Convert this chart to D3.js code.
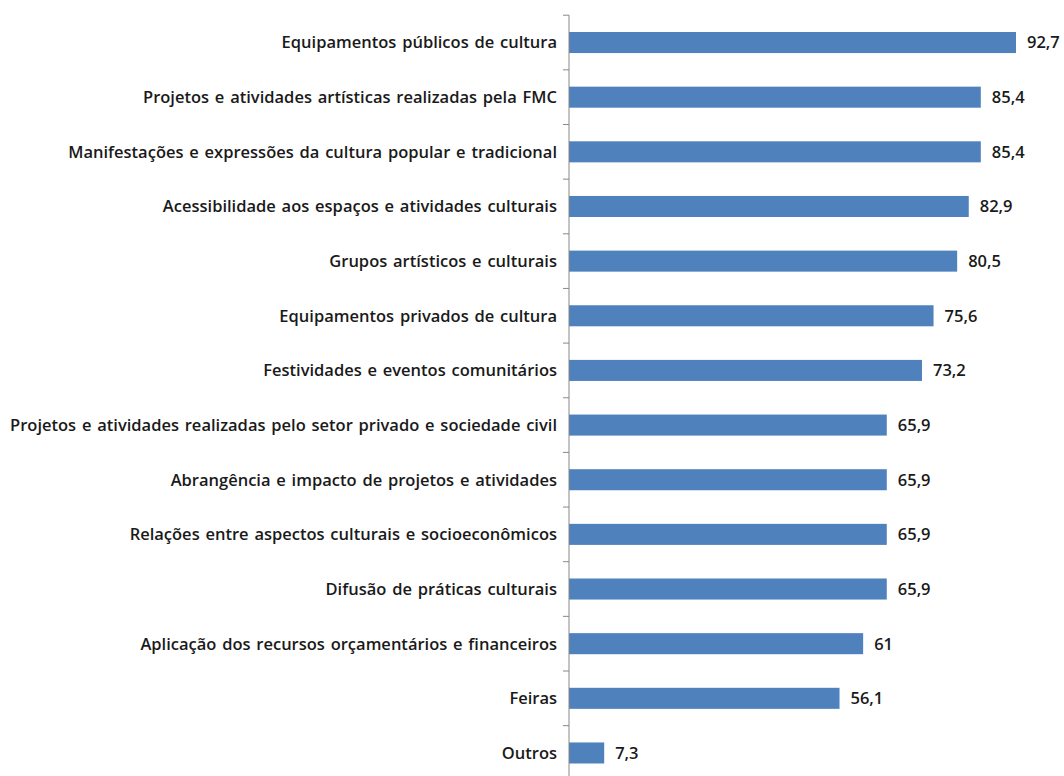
<!DOCTYPE html>
<html>
<head>
<meta charset="utf-8">
<script src="https://cdn.jsdelivr.net/npm/d3@7"></script>
<style>
  html, body { margin: 0; padding: 0; background: #fff; }
  svg text { font-family: "Open Sans", Lato, sans-serif; font-weight: 600; fill: #1a1a1a; }
</style>
</head>
<body>
<svg id="chart" width="1064" height="776"></svg>
<script>
const categories = [
  "Equipamentos públicos de cultura",
  "Projetos e atividades artísticas realizadas pela FMC",
  "Manifestações e expressões da cultura popular e tradicional",
  "Acessibilidade aos espaços e atividades culturais",
  "Grupos artísticos e culturais",
  "Equipamentos privados de cultura",
  "Festividades e eventos comunitários",
  "Projetos e atividades realizadas pelo setor privado e sociedade civil",
  "Abrangência e impacto de projetos e atividades",
  "Relações entre aspectos culturais e socioeconômicos",
  "Difusão de práticas culturais",
  "Aplicação dos recursos orçamentários e financeiros",
  "Feiras",
  "Outros"
];
const values = [92.7, 85.4, 85.4, 82.9, 80.5, 75.6, 73.2, 65.9, 65.9, 65.9, 65.9, 61, 56.1, 7.3];

const svg = d3.select("#chart");
const axisX = 569;

const x = d3.scaleLinear().domain([0, 100]).range([axisX, axisX + 482.2]);
const y = d3.scaleBand().domain(categories).range([15.2, 15.2 + 54.65 * categories.length]).paddingInner(0.615).paddingOuter(0.3075);

const fmt = v => String(v).replace(".", ",");

// bars
svg.append("g").selectAll("rect").data(categories).join("rect")
  .attr("x", x(0))
  .attr("y", d => y(d))
  .attr("width", (d, i) => x(values[i]) - x(0))
  .attr("height", y.bandwidth())
  .attr("fill", "#4f81bd");

// value labels
svg.append("g").selectAll("text").data(categories).join("text")
  .attr("x", (d, i) => x(values[i]) + 11)
  .attr("y", d => y(d) + y.bandwidth() / 2)
  .attr("dy", "0.36em")
  .attr("font-size", 16.5)
  .attr("font-weight", 700)
  .text((d, i) => fmt(values[i]));

// category axis
const step = y.step();
const axisG = svg.append("g");
axisG.append("line")
  .attr("x1", axisX).attr("x2", axisX)
  .attr("y1", y.range()[0]).attr("y2", 776)
  .attr("stroke", "#888").attr("stroke-width", 1);
axisG.selectAll("line.tick").data(d3.range(categories.length + 1)).join("line")
  .attr("class", "tick")
  .attr("x1", axisX - 6).attr("x2", axisX)
  .attr("y1", i => y.range()[0] + i * step)
  .attr("y2", i => y.range()[0] + i * step)
  .attr("stroke", "#888");

axisG.selectAll("text").data(categories).join("text")
  .attr("x", axisX - 12)
  .attr("y", d => y(d) + y.bandwidth() / 2)
  .attr("dy", "0.36em")
  .attr("text-anchor", "end")
  .attr("font-size", 16.5)
  .attr("word-spacing", 1.5)
  .text(d => d);
</script>
</body>
</html>
